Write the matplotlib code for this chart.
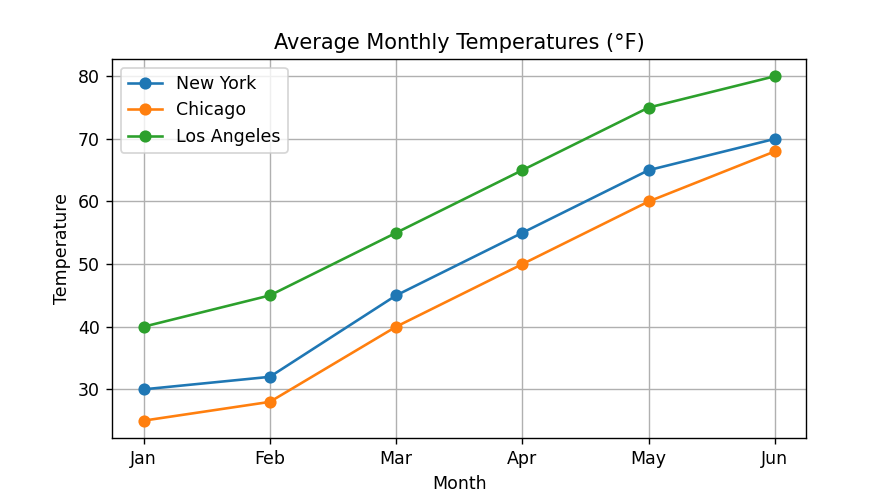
import matplotlib
matplotlib.use("Agg")
import matplotlib.pyplot as plt

months = ["Jan", "Feb", "Mar", "Apr", "May", "Jun"]
new_york = [30, 32, 45, 55, 65, 70]
chicago = [25, 28, 40, 50, 60, 68]
los_angeles = [40, 45, 55, 65, 75, 80]

fig, ax = plt.subplots(figsize=(7.168, 3.936), dpi=125)
ax.plot(months, new_york, marker='o', label="New York")
ax.plot(months, chicago, marker='o', label="Chicago")
ax.plot(months, los_angeles, marker='o', label="Los Angeles")

ax.set_title("Average Monthly Temperatures (°F)")
ax.set_xlabel("Month")
ax.set_ylabel("Temperature")
ax.legend()
ax.grid(True)

plt.savefig("out.png", dpi=125)
plt.close()
